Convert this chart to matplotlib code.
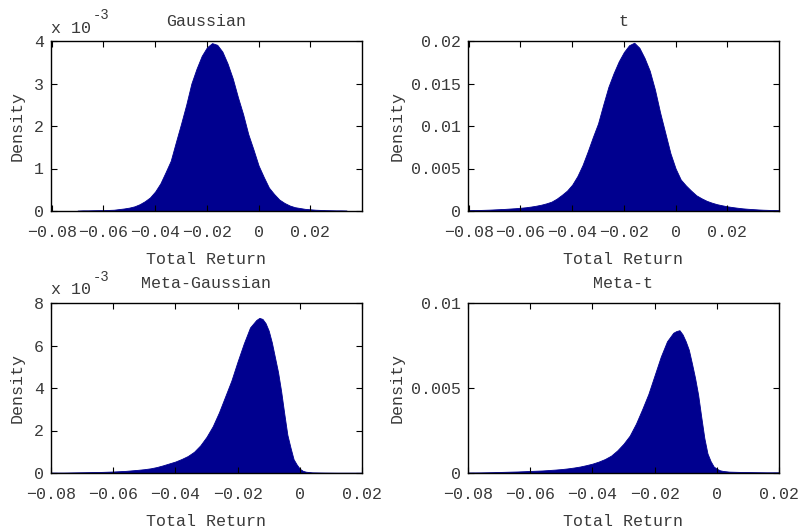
import numpy as np
import matplotlib
matplotlib.use("Agg")
from matplotlib import pyplot as plt

# Werte (Dichte in Einheiten von 1e-3)
gauss_x = [-0.070, -0.068, -0.066, -0.064, -0.062, -0.060, -0.058, -0.056, -0.054, -0.052,
           -0.050, -0.048, -0.046, -0.044, -0.042, -0.040, -0.038, -0.036, -0.034, -0.032,
           -0.030, -0.028, -0.026, -0.024, -0.022, -0.020, -0.018, -0.016, -0.014, -0.012,
           -0.010, -0.008, -0.006, -0.004, -0.002, 0.000, 0.002, 0.004, 0.006, 0.008,
           0.010, 0.012, 0.014, 0.016, 0.018, 0.020, 0.022, 0.024, 0.026, 0.028,
           0.030, 0.032, 0.034]
gauss_y = [0.01, 0.015, 0.015, 0.018, 0.02, 0.02, 0.025, 0.03, 0.045, 0.06,
           0.08, 0.11, 0.16, 0.23, 0.32, 0.46, 0.65, 0.91, 1.18, 1.62,
           2.05, 2.50, 3.00, 3.35, 3.65, 3.85, 3.95, 3.91, 3.75, 3.47,
           3.12, 2.68, 2.28, 1.81, 1.45, 1.07, 0.80, 0.55, 0.40, 0.27,
           0.19, 0.13, 0.09, 0.07, 0.05, 0.04, 0.03, 0.025, 0.02, 0.018,
           0.015, 0.015, 0.012]

t_x = [-0.080, -0.078, -0.076, -0.074, -0.072, -0.070, -0.068, -0.066, -0.064, -0.062,
       -0.060, -0.058, -0.056, -0.054, -0.052, -0.050, -0.048, -0.046, -0.044, -0.042,
       -0.040, -0.038, -0.036, -0.034, -0.032, -0.030, -0.028, -0.026, -0.024, -0.022,
       -0.020, -0.018, -0.016, -0.014, -0.012, -0.010, -0.008, -0.006, -0.004, -0.002,
       0.000, 0.002, 0.004, 0.006, 0.008, 0.010, 0.012, 0.014, 0.016, 0.018,
       0.020, 0.022, 0.024, 0.026, 0.028, 0.030, 0.032, 0.034, 0.036, 0.038, 0.040]
t_y = [0.10, 0.11, 0.12, 0.14, 0.16, 0.19, 0.22, 0.25, 0.29, 0.33,
       0.38, 0.44, 0.52, 0.62, 0.74, 0.90, 1.10, 1.45, 1.90, 2.40,
       3.10, 4.10, 5.40, 7.00, 8.70, 10.3, 12.5, 14.6, 16.2, 17.6,
       18.7, 19.5, 19.8, 19.2, 18.0, 16.5, 14.3, 11.6, 9.2, 6.8,
       5.0, 3.7, 3.0, 2.4, 1.85, 1.50, 1.20, 0.98, 0.80, 0.67,
       0.55, 0.46, 0.38, 0.31, 0.26, 0.22, 0.18, 0.15, 0.13, 0.11, 0.10]

mgauss_x = [-0.080, -0.076, -0.072, -0.068, -0.064, -0.060, -0.056, -0.052, -0.050, -0.048,
            -0.046, -0.044, -0.042, -0.040, -0.038, -0.036, -0.034, -0.032, -0.030, -0.028,
            -0.026, -0.024, -0.022, -0.020, -0.018, -0.016, -0.014, -0.013, -0.012, -0.011,
            -0.010, -0.009, -0.008, -0.007, -0.006, -0.005, -0.004, -0.003, -0.002, -0.001,
            0.000, 0.001, 0.002, 0.004, 0.008, 0.012, 0.016, 0.020]
mgauss_y = [0.02, 0.02, 0.03, 0.04, 0.05, 0.07, 0.10, 0.15, 0.18, 0.22,
            0.28, 0.36, 0.45, 0.54, 0.66, 0.80, 1.00, 1.30, 1.70, 2.20,
            2.85, 3.60, 4.35, 5.25, 6.10, 6.85, 7.20, 7.30, 7.25, 7.05,
            6.70, 6.15, 5.45, 4.75, 3.85, 2.80, 1.80, 1.20, 0.65, 0.40,
            0.20, 0.10, 0.06, 0.03, 0.02, 0.015, 0.015, 0.015]

mt_x = mgauss_x
mt_y = [0.03, 0.035, 0.05, 0.07, 0.09, 0.12, 0.15, 0.20, 0.23, 0.27,
        0.32, 0.38, 0.46, 0.55, 0.67, 0.82, 1.02, 1.33, 1.72, 2.20,
        2.90, 3.75, 4.65, 5.75, 6.85, 7.75, 8.25, 8.35, 8.40, 8.15,
        7.75, 7.25, 6.45, 5.60, 4.60, 3.30, 2.05, 1.15, 0.70, 0.38,
        0.25, 0.16, 0.12, 0.08, 0.06, 0.05, 0.04, 0.04]

titles = ["Gaussian", "t", "Meta-Gaussian", "Meta-t"]
xticks = [-0.08, -0.06, -0.04, -0.02, 0, 0.02]
xtick_labels = ["\u22120.08", "\u22120.06", "\u22120.04", "\u22120.02", "0", "0.02"]

farbe = "#00008f"
txt = "#3a3a3a"
plt.rcParams["font.family"] = ["Liberation Mono", "DejaVu Sans Mono"]
plt.rcParams["font.size"] = 12

fig = plt.figure(figsize=(8.04, 5.30), dpi=100)
W, H = 804.0, 530.0

# (links, oben, rechts, unten) in Pixel
boxen = [(51, 41, 362, 211), (468, 41, 779, 211), (51, 303, 362, 473), (468, 303, 779, 473)]
daten = [(gauss_x, gauss_y), (t_x, t_y), (mgauss_x, mgauss_y), (mt_x, mt_y)]
xlims = [(-0.0803, 0.0400), (-0.0803, 0.0400), (-0.08, 0.02), (-0.08, 0.02)]
ylims = [4e-3, 0.02, 8e-3, 0.01]
yticks = [[0, 1e-3, 2e-3, 3e-3, 4e-3], [0, 0.005, 0.01, 0.015, 0.02],
          [0, 2e-3, 4e-3, 6e-3, 8e-3], [0, 0.005, 0.01]]
ytick_labels = [["0", "1", "2", "3", "4"], ["0", "0.005", "0.01", "0.015", "0.02"],
                ["0", "2", "4", "6", "8"], ["0", "0.005", "0.01"]]
ylabel_x = [-34, -71, -34, -71]

for i in range(4):
    l, o, r, u = boxen[i]
    ax = fig.add_axes([l / W, (H - u) / H, (r - l) / W, (u - o) / H])
    x = np.array(daten[i][0])
    y = np.array(daten[i][1]) * 1e-3
    ax.fill_between(x, 0, y, color=farbe, linewidth=0.6, edgecolor=farbe)
    ax.set_xlim(*xlims[i])
    ax.set_ylim(0, ylims[i])
    ax.set_xticks(xticks)
    ax.set_xticklabels(xtick_labels)
    ax.set_yticks(yticks[i])
    ax.set_yticklabels(ytick_labels[i])
    ax.tick_params(direction="in", top=True, right=True, length=4, width=0.8,
                   colors="black", labelcolor=txt)
    ax.tick_params(axis="x", pad=10)
    ax.tick_params(axis="y", pad=5)
    for s in ax.spines.values():
        s.set_linewidth(1.0)
    hoehe = u - o
    breite = r - l
    ax.set_ylabel("Density", color=txt, va="center")
    ax.yaxis.set_label_coords(ylabel_x[i] / breite, 0.5)
    ax.set_xlabel("Total Return", color=txt, va="center")
    ax.xaxis.set_label_coords(0.5, -48 / hoehe)
    ax.text(0.5, 1 + 19.5 / hoehe, titles[i], transform=ax.transAxes,
            ha="center", va="center", color=txt)
    if i in (0, 2):
        ax.text(0.0, 1 + 13 / hoehe, "x 10", transform=ax.transAxes,
                ha="left", va="center", color=txt)
        ax.text(0.135, 1 + 26 / hoehe, "-3", transform=ax.transAxes,
                ha="left", va="center", color=txt, fontsize=10)

fig.savefig("out.png", dpi=100)
